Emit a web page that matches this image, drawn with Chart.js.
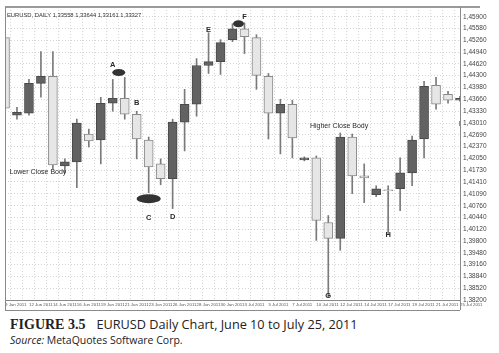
<!DOCTYPE html>
<html>
<head>
<meta charset="utf-8">
<script src="https://cdn.jsdelivr.net/npm/chart.js@4"></script>
<style>
body { margin: 0; background: #fff; width: 499px; height: 353px; overflow: hidden; position: relative; font-family: "Open Sans", sans-serif; }
#wrap { position: absolute; left: 0; top: 0; width: 499px; height: 312px; }
.cap { position: absolute; left: 10px; top: 315px; font-size: 12.7px; color: #222; white-space: nowrap; }
.cap b { font-family: "Liberation Serif", serif; font-weight: bold; font-size: 14px; margin-right: 11px; }
.src { position: absolute; left: 10px; top: 333px; font-size: 10.5px; color: #222; white-space: nowrap; }
</style>
</head>
<body>
<div id="wrap"><canvas id="myChart"></canvas></div>
<div class="cap"><b>FIGURE 3.5</b>EURUSD Daily Chart, June 10 to July 25, 2011</div>
<div class="src"><i>Source:</i> MetaQuotes Software Corp.</div>
<script>
const dates = ["9 Jun 2011", "10 Jun 2011", "12 Jun 2011", "13 Jun 2011", "14 Jun 2011", "15 Jun 2011",
    "16 Jun 2011", "17 Jun 2011", "19 Jun 2011", "20 Jun 2011", "21 Jun 2011", "22 Jun 2011",
    "23 Jun 2011", "24 Jun 2011", "26 Jun 2011", "27 Jun 2011", "28 Jun 2011", "29 Jun 2011",
    "30 Jun 2011", "1 Jul 2011", "3 Jul 2011", "4 Jul 2011", "5 Jul 2011", "6 Jul 2011",
    "7 Jul 2011", "8 Jul 2011", "10 Jul 2011", "11 Jul 2011", "12 Jul 2011", "13 Jul 2011",
    "14 Jul 2011", "15 Jul 2011", "17 Jul 2011", "18 Jul 2011", "19 Jul 2011", "20 Jul 2011",
    "21 Jul 2011", "22 Jul 2011", "25 Jul 2011"];

const open = [1.45333, 1.43225, 1.43279, 1.44090, 1.44279, 1.41847, 1.41955, 1.42712, 1.42550, 1.43550,
    1.43685, 1.43252, 1.42550, 1.41901, 1.41496, 1.43036, 1.43522, 1.44576, 1.44684, 1.45279,
    1.45576, 1.45333, 1.44279, 1.43279, 1.43522, 1.42010, 1.42064, 1.40307, 1.39875, 1.42631,
    1.41577, 1.41064, 1.41199, 1.41226, 1.41658, 1.42577, 1.44036, 1.43793, 1.43631];
const high = [1.45387, 1.43441, 1.44198, 1.44954, 1.44954, 1.42037, 1.43117, 1.42847, 1.43712, 1.44198,
    1.44252, 1.43333, 1.42631, 1.42037, 1.43117, 1.43928, 1.44765, 1.45468, 1.45279, 1.45711,
    1.45738, 1.45414, 1.44360, 1.43658, 1.43631, 1.42091, 1.42118, 1.40497, 1.42739, 1.42712,
    1.41901, 1.41307, 1.41307, 1.42064, 1.42658, 1.44144, 1.44252, 1.43874, 1.43739];
const low = [1.43333, 1.43117, 1.43225, 1.43712, 1.41766, 1.41658, 1.41253, 1.42361, 1.41901, 1.43333,
    1.43117, 1.42037, 1.41118, 1.41334, 1.40686, 1.42253, 1.43198, 1.44360, 1.44333, 1.45225,
    1.44900, 1.43928, 1.42577, 1.42172, 1.42064, 1.41983, 1.39821, 1.38281, 1.39551, 1.41091,
    1.40848, 1.41010, 1.40010, 1.40632, 1.41307, 1.42064, 1.43387, 1.43550, 1.43604];
const close = [1.43414, 1.43306, 1.44090, 1.44279, 1.41874, 1.41955, 1.43009, 1.42523, 1.43550, 1.43685,
    1.43252, 1.42577, 1.41820, 1.41496, 1.43036, 1.43522, 1.44576, 1.44684, 1.45198, 1.45576,
    1.45360, 1.44306, 1.43279, 1.43522, 1.42604, 1.42064, 1.40361, 1.39875, 1.42631, 1.41577,
    1.41523, 1.41226, 1.41172, 1.41658, 1.42550, 1.44009, 1.43522, 1.43631, 1.43685];

const priceTicks = ["1,45900", "1,45580", "1,45260", "1,44940", "1,44620", "1,44300", "1,43980",
    "1,43660", "1,43330", "1,43010", "1,42690", "1,42370", "1,42050", "1,41730", "1,41410",
    "1,41090", "1,40760", "1,40440", "1,40120", "1,39800", "1,39480", "1,39160", "1,38840",
    "1,38520", "1,38200"];

// letters and notes placed at (bar index, price)
const notes = [
    { text: "A", i: 9, p: 1.44603 },
    { text: "B", i: 11, p: 1.43550 },
    { text: "C", i: 12, p: 1.40443 },
    { text: "D", i: 14, p: 1.40470 },
    { text: "E", i: 17, p: 1.45549 },
    { text: "F", i: 20, p: 1.45900 },
    { text: "G", i: 27, p: 1.38300 },
    { text: "H", i: 32, p: 1.39956 },
    { text: "I", i: 38, p: 1.43000 },
    { text: "Lower Close Body", i: 2.75, p: 1.41685 },
    { text: "Higher Close Body", i: 27.9, p: 1.42930 }
];
const ovals = [
    { i: 9.5, p: 1.44387, rx: 6.5, ry: 3.5 },
    { i: 12, p: 1.40956, rx: 12, ry: 4.5 },
    { i: 19.5, p: 1.45711, rx: 5.5, ry: 3.5 }
];

const up = close.map((c, k) => c >= open[k]);

const extras = {
    id: "extras",
    afterDatasetsDraw(chart) {
        const { ctx, chartArea, scales } = chart;
        ctx.save();
        ctx.fillStyle = "#333";
        ovals.forEach(o => {
            ctx.beginPath();
            ctx.ellipse(scales.x.getPixelForValue(o.i), scales.y.getPixelForValue(o.p), o.rx, o.ry, 0, 0, Math.PI * 2);
            ctx.fill();
        });
        ctx.fillStyle = "#2a2a2a";
        ctx.textAlign = "center";
        ctx.textBaseline = "middle";
        notes.forEach(n => {
            ctx.font = n.text.length > 1 ? "7px 'Liberation Sans'" : "bold 7.5px 'Liberation Sans'";
            ctx.fillText(n.text, scales.x.getPixelForValue(n.i), scales.y.getPixelForValue(n.p));
        });
        ctx.textAlign = "left";
        ctx.font = "5.8px 'Liberation Sans'";
        ctx.fillStyle = "#333";
        ctx.fillText("EURUSD, DAILY 1,33558 1,33644 1,33161 1,33327", chartArea.left + 2, chartArea.top + 8);
        // frame lines
        ctx.strokeStyle = "#9a9a9a";
        ctx.lineWidth = 2;
        ctx.beginPath();
        ctx.moveTo(chartArea.left, chartArea.top);
        ctx.lineTo(chartArea.right + 20, chartArea.top);
        ctx.stroke();
        ctx.lineWidth = 1;
        ctx.strokeStyle = "#8a8a8a";
        ctx.beginPath();
        ctx.moveTo(chartArea.left + 0.5, chartArea.top);
        ctx.lineTo(chartArea.left + 0.5, chartArea.bottom + 10);
        ctx.moveTo(chartArea.left, chartArea.bottom + 0.5);
        ctx.lineTo(chartArea.right, chartArea.bottom + 0.5);
        ctx.moveTo(chartArea.left, chartArea.bottom + 10.5);
        ctx.lineTo(chartArea.right, chartArea.bottom + 10.5);
        ctx.moveTo(chartArea.right + 0.5, chartArea.top);
        ctx.lineTo(chartArea.right + 0.5, chartArea.bottom + 10);
        ctx.stroke();
        ctx.restore();
    }
};

const config = {
    type: "bar",
    data: {
        labels: dates,
        datasets: [
            {
                label: "Body",
                data: open.map((o, k) => [o, close[k]]),
                backgroundColor: up.map(u => u ? "#626262" : "#e6e6e6"),
                borderColor: up.map(u => u ? "#4a4a4a" : "#8a8a8a"),
                borderWidth: 1,
                borderSkipped: false,
                barThickness: 9,
                grouped: false
            },
            {
                label: "Wick",
                data: low.map((l, k) => [l, high[k]]),
                backgroundColor: "#7a7a7a",
                borderWidth: 0,
                barThickness: 1,
                grouped: false
            }
        ]
    },
    options: {
        responsive: true,
        maintainAspectRatio: false,
        animation: false,
        layout: { padding: { left: 5, top: 5, right: 2, bottom: 2 } },
        plugins: { legend: { display: false }, tooltip: { enabled: false } },
        scales: {
            x: {
                offset: false,
                grid: { color: "#d4d4d4", drawTicks: false },
                border: { color: "#888", dash: [1, 2] },
                ticks: {
                    autoSkip: false,
                    maxRotation: 0,
                    align: "start",
                    padding: 2,
                    color: "#555",
                    font: { size: 4.4, family: "Liberation Sans" },
                    callback: (v, i) => i % 2 === 0 ? dates[i] : ""
                },
                afterFit: s => { s.height = 10; }
            },
            y: {
                position: "right",
                min: 1.382,
                max: 1.4617,
                grid: { color: "#d4d4d4", drawTicks: false },
                border: { color: "#888", dash: [1, 2] },
                afterBuildTicks: s => {
                    s.ticks = priceTicks.map(t => ({ value: parseFloat(t.replace(",", ".")) }));
                },
                ticks: {
                    padding: 3,
                    color: "#444",
                    font: { size: 6.5, family: "Liberation Sans" },
                    callback: (v, i) => priceTicks[i]
                },
                afterFit: s => { s.width = 37; }
            }
        }
    },
    plugins: [extras]
};

const myChart = new Chart(document.getElementById("myChart"), config);
</script>
</body>
</html>
